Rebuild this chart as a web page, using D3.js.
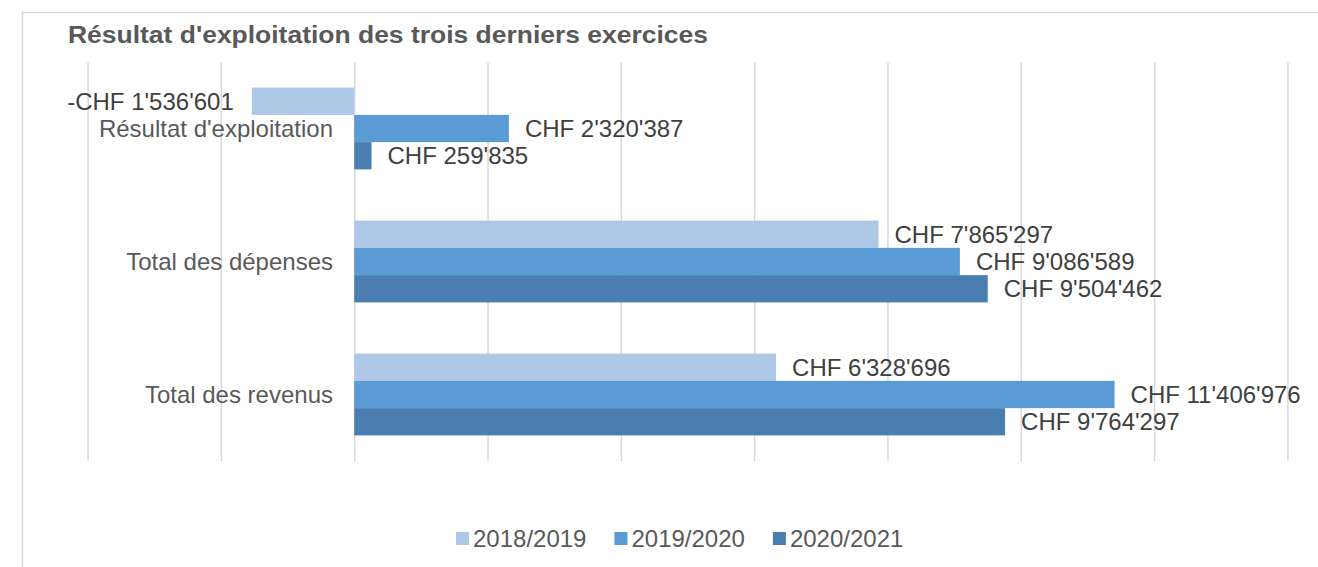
<!DOCTYPE html>
<html>
<head>
<meta charset="utf-8">
<script src="https://cdn.jsdelivr.net/npm/d3@7"></script>
<style>
  html, body { margin: 0; padding: 0; background: #fff; }
  svg { display: block; font-family: "Liberation Sans", Arial, sans-serif; }
</style>
</head>
<body>
<svg id="chart" width="1318" height="567"></svg>
<script>
// ---- data ----
const title = "Résultat d'exploitation des trois derniers exercices";
const categories = ["Résultat d'exploitation", "Total des dépenses", "Total des revenus"];
const seriesNames = ["2018/2019", "2019/2020", "2020/2021"];
const values2018 = [-1536601, 7865297, 6328696];
const values2019 = [2320387, 9086589, 11406976];
const values2020 = [259835, 9504462, 9764297];
const xTicks = [-4000000, -2000000, 0, 2000000, 4000000, 6000000, 8000000, 10000000, 12000000, 14000000];
const colors = ["#AEC7E6", "#5B9BD5", "#4A7EB0"];

const seriesValues = [values2018, values2019, values2020];

const svg = d3.select("#chart");
const W = 1318, H = 567;
const FS = 24;

// border
svg.append("rect")
  .attr("x", 22.5).attr("y", 12.5)
  .attr("width", W + 20).attr("height", H + 20)
  .attr("fill", "#fff").attr("stroke", "#d9d9d9").attr("stroke-width", 1.5);

// title
svg.append("text")
  .attr("x", 68).attr("y", 42.5)
  .attr("font-size", 24).attr("font-weight", "bold")
  .attr("fill", "#595959")
  .attr("textLength", 640).attr("lengthAdjust", "spacingAndGlyphs")
  .text(title);

const x = d3.scaleLinear().domain([-4000000, 14000000]).range([87.6, 1287.4]);
const y0 = d3.scaleBand().domain(categories).range([62, 461]).paddingInner(0.385).paddingOuter(0.1925);
const y1 = d3.scaleBand().domain(seriesNames).range([0, y0.bandwidth()]);

// gridlines via axis
const gAxis = svg.append("g").attr("transform", "translate(0,461)")
  .call(d3.axisBottom(x).tickValues(xTicks).tickSize(-399).tickFormat(""));
gAxis.select(".domain").remove();
gAxis.selectAll(".tick line").attr("stroke", "#d9d9d9").attr("stroke-width", 1.5);

const loc = d3.formatLocale({ decimal: ".", thousands: "'", grouping: [3], currency: ["CHF ", ""], minus: "-" });
const fmt = loc.format("$,.0f");

// bars + value labels
seriesNames.forEach((s, si) => {
  const data = categories.map((c, ci) => ({ c, v: seriesValues[si][ci] }));
  const g = svg.append("g");
  g.selectAll("rect")
    .data(data)
    .join("rect")
    .attr("x", d => x(Math.min(0, d.v)))
    .attr("y", d => y0(d.c) + y1(s))
    .attr("width", d => Math.abs(x(d.v) - x(0)))
    .attr("height", y1.bandwidth())
    .attr("fill", colors[si]);
  g.selectAll("text")
    .data(data)
    .join("text")
    .attr("x", d => d.v >= 0 ? x(d.v) + 16 : x(d.v) - 18)
    .attr("y", d => y0(d.c) + y1(s) + y1.bandwidth() / 2 + 8.4)
    .attr("text-anchor", d => d.v >= 0 ? "start" : "end")
    .attr("font-size", FS)
    .attr("fill", "#404040")
    .text(d => fmt(d.v));
});

// category labels
svg.append("g").selectAll("text")
  .data(categories)
  .join("text")
  .attr("x", 333)
  .attr("y", d => y0(d) + y0.bandwidth() / 2 + 8.4)
  .attr("text-anchor", "end")
  .attr("font-size", FS)
  .attr("fill", "#595959")
  .text(d => d);

// legend
const legend = svg.append("g");
let lx = 456;
seriesNames.forEach((s, i) => {
  legend.append("rect")
    .attr("x", lx).attr("y", 532).attr("width", 13).attr("height", 13)
    .attr("fill", colors[i]);
  const t = legend.append("text")
    .attr("x", lx + 17).attr("y", 546.7)
    .attr("font-size", FS).attr("fill", "#595959")
    .text(s);
  const w = t.node().getComputedTextLength();
  lx += 17 + w + 28;
});
</script>
</body>
</html>
